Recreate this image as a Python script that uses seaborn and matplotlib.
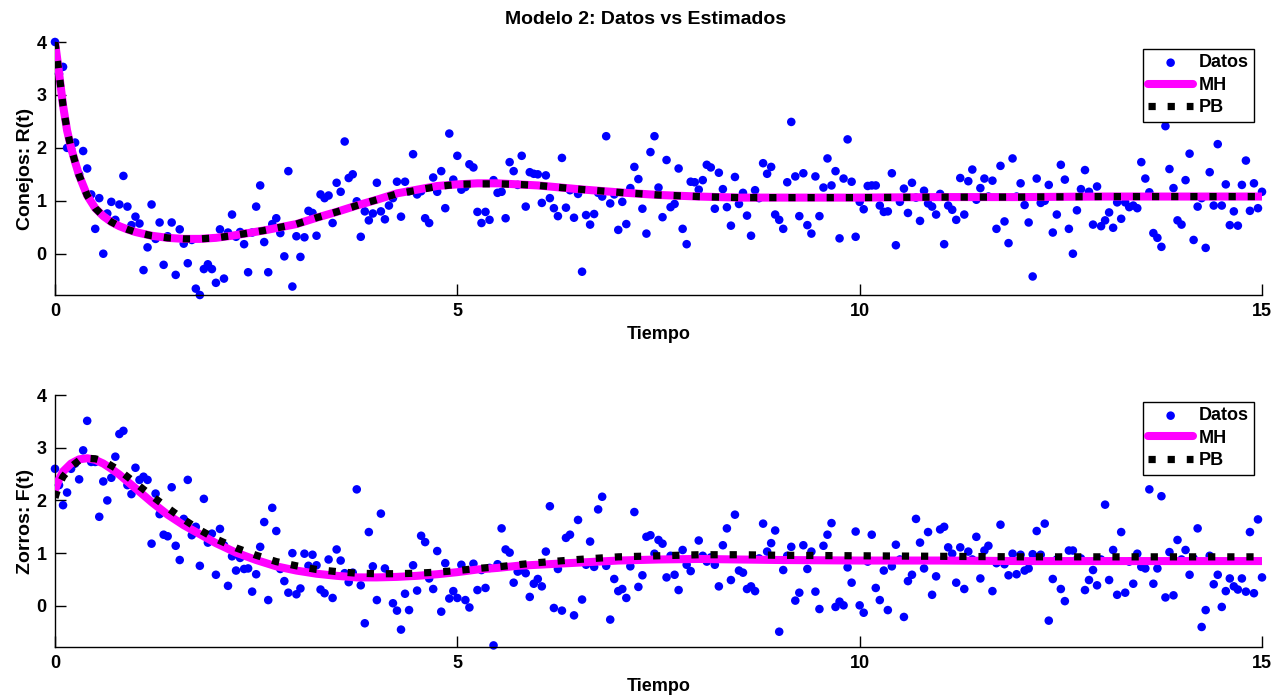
import numpy as np
import matplotlib
matplotlib.use("Agg")
import matplotlib.pyplot as plt
import seaborn as sns

# ---------------- data ----------------
t_data = [round(i * 0.05, 2) for i in range(301)]

rabbits_data = [
    4.0, 3.40, 3.53, 2.0, 1.98, 2.1, 1.5, 1.94, 1.61, 1.12,
    0.47, 1.05, 0.0, 0.76, 0.98, 0.64, 0.93, 1.47, 0.89, 0.54,
    0.70, 0.57, -0.31, 0.12, 0.93, 0.28, 0.59, -0.21, 0.33, 0.59,
    -0.40, 0.46, 0.19, -0.18, 0.26, -0.66, -0.78, -0.29, -0.20, -0.29,
    -0.55, 0.46, -0.47, 0.40, 0.74, 0.32, 0.41, 0.18, -0.35, 0.40,
    0.89, 1.29, 0.22, -0.35, 0.56, 0.67, 0.39, -0.05, 1.56, -0.62,
    0.33, -0.06, 0.31, 0.81, 0.77, 0.34, 1.12, 1.05, 1.10, 0.58,
    1.34, 1.17, 2.12, 1.43, 1.50, 0.99, 0.32, 0.80, 0.63, 0.76,
    1.34, 0.80, 0.65, 0.91, 1.05, 1.36, 0.70, 1.36, 1.18, 1.88,
    1.12, 1.18, 0.67, 0.58, 1.44, 1.17, 1.56, 0.86, 2.27, 1.40,
    1.85, 1.21, 1.26, 1.69, 1.63, 0.79, 0.58, 0.79, 0.64, 1.39,
    1.15, 1.17, 0.67, 1.73, 1.56, 1.30, 1.85, 0.89, 1.54, 1.51,
    1.50, 0.96, 1.48, 1.05, 0.86, 0.71, 1.81, 0.87, 1.20, 0.68,
    1.13, -0.34, 0.73, 0.55, 0.75, 1.15, 1.08, 2.22, 0.95, 1.12,
    0.45, 0.98, 0.56, 1.24, 1.64, 1.41, 0.85, 0.38, 1.92, 2.22,
    1.25, 0.69, 1.77, 0.88, 0.94, 1.61, 0.47, 0.18, 1.36, 1.35,
    1.21, 1.39, 1.68, 1.63, 0.85, 1.53, 1.22, 0.88, 0.53, 1.45,
    0.94, 1.15, 0.72, 0.34, 1.20, 1.05, 1.71, 1.51, 1.64, 0.74,
    0.64, 0.47, 1.35, 2.49, 1.46, 0.71, 1.52, 0.54, 0.38, 1.46,
    0.71, 1.25, 1.80, 1.29, 1.56, 0.29, 1.42, 2.16, 1.36, 0.32,
    0.98, 0.84, 1.28, 1.29, 1.29, 0.91, 0.79, 0.80, 1.52, 0.16,
    0.98, 1.23, 0.77, 1.34, 1.06, 0.62, 1.19, 0.95, 0.89, 0.74,
    1.13, 0.18, 0.91, 0.83, 0.64, 1.43, 0.74, 1.37, 1.59, 1.02,
    1.24, 1.42, 1.08, 1.38, 0.47, 1.66, 0.61, 0.20, 1.80, 1.08,
    1.33, 0.92, 0.59, -0.43, 1.42, 0.96, 1.00, 1.30, 0.40, 0.74,
    1.68, 1.40, 0.47, 0.0, 0.82, 1.22, 1.58, 1.17, 0.55, 1.27,
    0.52, 0.63, 0.78, 0.49, 0.97, 0.66, 0.97, 0.88, 0.91, 0.86,
    1.73, 1.42, 1.16, 0.39, 0.30, 0.13, 2.41, 1.60, 1.24, 0.63,
    0.55, 1.39, 1.89, 0.26, 0.89, 1.05, 0.11, 1.54, 0.91, 2.07,
    0.91, 1.31, 0.54, 0.80, 0.53, 1.30, 1.76, 0.81, 1.33, 0.86,
    1.17,
]

foxes_data = [
    2.60, 2.29, 1.91, 2.15, 2.60, 2.70, 2.40, 2.95, 3.51, 2.73,
    2.73, 1.69, 2.36, 2.00, 2.43, 2.83, 3.26, 3.32, 2.29, 2.12,
    2.62, 2.39, 2.45, 2.39, 1.18, 2.13, 1.74, 1.35, 1.32, 2.25,
    1.14, 0.87, 1.65, 2.39, 1.34, 1.50, 0.76, 2.03, 1.20, 1.37,
    0.59, 1.46, 1.15, 0.38, 0.94, 0.67, 0.91, 0.70, 0.71, 0.27,
    0.60, 1.12, 1.59, 0.11, 1.86, 1.42, 0.70, 0.47, 0.25, 1.00,
    0.22, 0.33, 0.99, 0.76, 0.97, 0.77, 0.31, 0.24, 0.88, 0.15,
    1.07, 0.86, 0.62, 0.45, 0.63, 2.21, 0.39, -0.33, 1.40, 0.75,
    0.11, 1.75, 0.71, 0.59, 0.05, -0.09, -0.45, 0.23, -0.08, 0.77,
    0.29, 1.33, 1.21, 0.52, 0.32, 1.04, -0.11, 0.81, 0.14, 0.28,
    0.15, 0.78, 0.11, -0.03, 0.80, 0.30, 0.68, 0.34, 0.72, -0.75,
    0.79, 1.47, 1.07, 1.01, 0.44, 0.65, 0.68, 0.62, 0.17, 0.42,
    0.51, 0.37, 1.03, 1.89, -0.04, 0.70, -0.09, 1.29, 1.35, -0.18,
    1.63, 0.12, 0.78, 1.22, 0.74, 1.83, 2.07, 0.76, -0.26, 0.51,
    0.28, 0.32, 0.15, 0.75, 1.78, 0.36, 0.58, 1.31, 1.34, 0.99,
    1.25, 1.18, 0.54, 0.95, 0.59, 0.30, 1.06, 0.78, 0.66, 0.92,
    1.24, 0.95, 0.84, 0.92, 0.78, 0.37, 1.15, 1.47, 0.49, 1.73,
    0.67, 0.63, 0.32, 0.37, 0.28, 0.90, 1.56, 1.03, 1.19, 1.43,
    -0.49, 0.68, 0.95, 1.12, 0.10, 0.25, 1.15, 0.70, 1.03, 0.27,
    -0.06, 1.14, 1.35, 1.57, -0.02, 0.08, 0.01, 0.73, 0.44, 1.41,
    0.01, -0.13, 0.84, 1.35, 0.34, 0.11, 0.67, -0.08, 0.75, 1.16,
    0.88, -0.21, 0.47, 0.59, 1.65, 1.20, 0.71, 1.40, 0.21, 0.56,
    1.45, 1.50, 1.11, 0.99, 0.44, 1.11, 0.32, 1.03, 0.88, 1.31,
    0.52, 1.05, 1.14, 0.28, 0.81, 1.54, 0.79, 0.58, 0.99, 0.60,
    0.97, 0.67, 0.71, 0.98, 1.42, 0.97, 1.56, -0.28, 0.51, 0.88,
    0.32, 0.09, 1.05, 1.05, 0.88, 0.90, 0.30, 0.49, 0.68, 0.39,
    0.88, 1.92, 0.49, 1.06, 0.21, 1.40, 0.25, 0.84, 0.42, 0.99,
    0.74, 0.71, 2.21, 0.42, 0.71, 2.08, 0.16, 1.02, 0.20, 1.25,
    0.88, 1.06, 0.59, 0.90, 1.47, -0.40, -0.08, 0.95, 0.41, 0.59,
    -0.02, 0.28, 0.52, 0.37, 0.31, 0.52, 0.27, 1.40, 0.24, 1.64,
    0.54,
]

# estimated trajectories
t_curve_R = [0, 0.05, 0.1, 0.15, 0.2, 0.25, 0.3, 0.4, 0.5, 0.6, 0.7, 0.8, 0.9,
             1.0, 1.2, 1.4, 1.6, 1.8, 2.0, 2.2, 2.4, 2.6, 2.8, 3.0, 3.25, 3.5,
             3.75, 4.0, 4.25, 4.5, 4.75, 5.0, 5.25, 5.5, 5.75, 6.0, 6.5, 7.0,
             7.5, 8.0, 8.5, 9.0, 10, 11, 12, 13, 14, 15]
rabbits_mh = [4.0, 3.42, 2.80, 2.33, 2.00, 1.73, 1.48, 1.10, 0.86, 0.71, 0.60,
              0.52, 0.46, 0.41, 0.34, 0.30, 0.28, 0.28, 0.30, 0.34, 0.39, 0.44,
              0.50, 0.56, 0.68, 0.79, 0.91, 1.02, 1.14, 1.21, 1.28, 1.31, 1.33,
              1.33, 1.31, 1.29, 1.22, 1.16, 1.11, 1.08, 1.06, 1.06, 1.06, 1.07,
              1.07, 1.08, 1.08, 1.08]
rabbits_pb = [4.0, 3.42, 2.80, 2.33, 2.00, 1.73, 1.48, 1.10, 0.86, 0.71, 0.60,
              0.52, 0.46, 0.41, 0.34, 0.30, 0.28, 0.28, 0.30, 0.34, 0.39, 0.44,
              0.50, 0.56, 0.68, 0.79, 0.91, 1.02, 1.13, 1.20, 1.27, 1.31, 1.32,
              1.32, 1.31, 1.29, 1.22, 1.16, 1.11, 1.08, 1.06, 1.06, 1.06, 1.07,
              1.07, 1.08, 1.08, 1.08]

t_curve_F = [0, 0.05, 0.1, 0.2, 0.3, 0.4, 0.5, 0.6, 0.7, 0.8, 0.9, 1.0, 1.2, 1.4,
             1.6, 1.8, 2.0, 2.25, 2.5, 2.75, 3.0, 3.25, 3.5, 3.75, 4.0, 4.25,
             4.5, 4.75, 5.0, 5.25, 5.5, 5.75, 6.0, 6.5, 7.0, 7.5, 8.0, 8.5, 9.0,
             10, 11, 12, 13, 14, 15]
foxes_mh = [2.20, 2.40, 2.55, 2.70, 2.78, 2.80, 2.77, 2.70, 2.60, 2.49, 2.36,
            2.23, 1.97, 1.73, 1.53, 1.36, 1.19, 1.01, 0.87, 0.75, 0.67, 0.61,
            0.57, 0.54, 0.54, 0.55, 0.57, 0.60, 0.64, 0.69, 0.72, 0.76, 0.78,
            0.82, 0.86, 0.88, 0.89, 0.88, 0.87, 0.86, 0.86, 0.85, 0.85, 0.85,
            0.85]
foxes_pb = [2.05, 2.30, 2.45, 2.64, 2.76, 2.80, 2.79, 2.75, 2.66, 2.57, 2.45,
            2.33, 2.09, 1.86, 1.64, 1.44, 1.27, 1.10, 0.96, 0.84, 0.76, 0.69,
            0.65, 0.62, 0.61, 0.61, 0.62, 0.64, 0.67, 0.71, 0.74, 0.78, 0.82,
            0.88, 0.93, 0.95, 0.97, 0.97, 0.96, 0.95, 0.94, 0.93, 0.93, 0.93,
            0.93]

title = "Modelo 2: Datos vs Estimados"
xlabel = "Tiempo"
ylabels = ["Conejos: R(t)", "Zorros: F(t)"]
xticks = [0, 5, 10, 15]
yticks = [0, 1, 2, 3, 4]

# ---------------- style ----------------
sns.set_style("ticks")
plt.rcParams["font.family"] = ["Liberation Sans", "DejaVu Sans"]
plt.rcParams["font.weight"] = "bold"
plt.rcParams["axes.labelweight"] = "bold"
plt.rcParams["axes.titleweight"] = "bold"
plt.rcParams["text.color"] = "black"
plt.rcParams["axes.labelcolor"] = "black"
plt.rcParams["xtick.color"] = "black"
plt.rcParams["ytick.color"] = "black"
plt.rcParams["axes.edgecolor"] = "black"

W, H = 1285, 698
fig = plt.figure(figsize=(W / 100, H / 100), dpi=100)

def axes_px(left, top, right, bottom):
    return [left / W, (H - bottom) / H, (right - left) / W, (bottom - top) / H]

ax1 = fig.add_axes(axes_px(55, 42, 1262, 295))
ax2 = fig.add_axes(axes_px(55, 395, 1262, 647))

panels = [
    (ax1, rabbits_data, t_curve_R, rabbits_mh, rabbits_pb, ylabels[0]),
    (ax2, foxes_data, t_curve_F, foxes_mh, foxes_pb, ylabels[1]),
]

for ax, dat, tc, mh, pb, ylab in panels:
    sns.scatterplot(x=t_data, y=dat, ax=ax, color="#0000ff", s=38,
                    edgecolor="none", linewidth=0, label="Datos", clip_on=False,
                    zorder=2)
    sns.lineplot(x=tc, y=mh, ax=ax, color="#ff00ff", linewidth=5.8,
                 label="MH", zorder=3)
    sns.lineplot(x=tc, y=pb, ax=ax, color="black", linewidth=5.2,
                 linestyle=":", label="PB", zorder=4)
    ax.set_xlim(0, 15)
    ax.set_ylim(-0.78, 4.0)
    ax.set_xticks(xticks)
    ax.set_yticks(yticks)
    ax.set_xticklabels([str(v) for v in xticks])
    ax.set_yticklabels([str(v) for v in yticks])
    ax.tick_params(direction="in", length=8, width=1, labelsize=13, pad=6,
                   colors="black")
    for lab in ax.get_xticklabels() + ax.get_yticklabels():
        lab.set_fontweight("bold")
    sns.despine(ax=ax, top=True, right=True)
    for s in ("left", "bottom"):
        ax.spines[s].set_linewidth(1.0)
        ax.spines[s].set_color("black")
    ax.set_xlabel(xlabel, fontsize=13, fontweight="bold", labelpad=4)
    ax.set_ylabel(ylab, fontsize=14, fontweight="bold", labelpad=2)
    leg = ax.legend(loc="upper right", bbox_to_anchor=(0.9934, 0.9723),
                    borderaxespad=0, frameon=True, fancybox=False,
                    edgecolor="black", framealpha=1,
                    prop={"weight": "bold", "size": 13},
                    handlelength=2.5, labelspacing=0.3, borderpad=0.3,
                    handletextpad=0.3, scatterpoints=1)
    leg.get_frame().set_linewidth(1.0)

ax1.set_title(title, fontsize=14, fontweight="bold", pad=13, x=0.4896)

fig.savefig("out.png", dpi=100)
